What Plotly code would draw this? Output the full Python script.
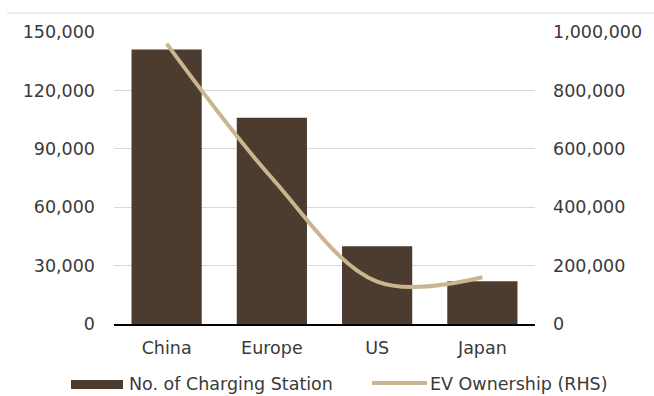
import plotly.graph_objects as go

# Regions compared
regions = ["China", "Europe", "US", "Japan"]
# Number of charging stations (left axis)
charging_stations = [141000, 106000, 40000, 22000]
# EV ownership (right axis)
ev_ownership = [960000, 500000, 145000, 160000]

left_ticks = [0, 30000, 60000, 90000, 120000, 150000]
right_ticks = [0, 200000, 400000, 600000, 800000, 1000000]

BAR_COLOR = "#4c3b2f"
LINE_COLOR = "#c9b58f"
TEXT_COLOR = "#3a3a3a"
GRID_COLOR = "#d9d9d9"
FONT = "DejaVu Sans"
FONT_SIZE = 17.5

fig = go.Figure()

fig.add_trace(go.Bar(
    x=regions, y=charging_stations, name="No. of Charging Station",
    marker=dict(color=BAR_COLOR, line=dict(width=0)),
    yaxis="y", showlegend=False,
))

fig.add_trace(go.Scatter(
    x=regions, y=ev_ownership, name="EV Ownership (RHS)",
    mode="lines", line=dict(color=LINE_COLOR, width=4, shape="spline", smoothing=1.0),
    yaxis="y2", showlegend=False,
))

fig.update_layout(
    width=654, height=396,
    margin=dict(l=114, r=119, t=32, b=72),
    paper_bgcolor="white", plot_bgcolor="white",
    font=dict(family=FONT, size=FONT_SIZE, color=TEXT_COLOR),
    bargap=0.333,
    xaxis=dict(
        showline=True, linecolor="black", linewidth=2,
        showgrid=False, ticks="", ticklabelstandoff=7,
        tickfont=dict(size=FONT_SIZE, color=TEXT_COLOR),
    ),
    yaxis=dict(
        range=[0, 150000], tickvals=left_ticks, tickformat=",",
        showgrid=True, gridcolor=GRID_COLOR, gridwidth=1,
        zeroline=False, showline=False, ticks="",
        ticklabelstandoff=18,
        tickfont=dict(size=FONT_SIZE, color=TEXT_COLOR),
    ),
    yaxis2=dict(
        range=[0, 1000000], tickvals=right_ticks, tickformat=",",
        overlaying="y", side="right",
        showgrid=False, zeroline=False, showline=False, ticks="",
        ticklabelstandoff=17,
        tickfont=dict(size=FONT_SIZE, color=TEXT_COLOR),
    ),
)


def px_x(px):
    return (px - 114) / 421


def px_y(py):
    return (324 - py) / 292


# Thin rule across the top of the chart
fig.add_shape(type="line", xref="paper", yref="paper",
              x0=px_x(7), x1=px_x(654), y0=px_y(13), y1=px_y(13),
              line=dict(color=GRID_COLOR, width=1))

# Legend drawn below the plot
legend_y = 384
fig.add_shape(type="rect", xref="paper", yref="paper",
              x0=px_x(71), x1=px_x(123), y0=px_y(389), y1=px_y(380),
              fillcolor=BAR_COLOR, line=dict(width=0))
fig.add_annotation(xref="paper", yref="paper", x=px_x(127), y=px_y(legend_y),
                   text="No. of Charging Station", showarrow=False,
                   xanchor="left", yanchor="middle",
                   font=dict(family=FONT, size=FONT_SIZE, color=TEXT_COLOR))
fig.add_shape(type="line", xref="paper", yref="paper",
              x0=px_x(372), x1=px_x(427), y0=px_y(383), y1=px_y(383),
              line=dict(color=LINE_COLOR, width=4))
fig.add_annotation(xref="paper", yref="paper", x=px_x(428), y=px_y(legend_y),
                   text="EV Ownership (RHS)", showarrow=False,
                   xanchor="left", yanchor="middle",
                   font=dict(family=FONT, size=FONT_SIZE, color=TEXT_COLOR))

fig.write_html("out.html")
